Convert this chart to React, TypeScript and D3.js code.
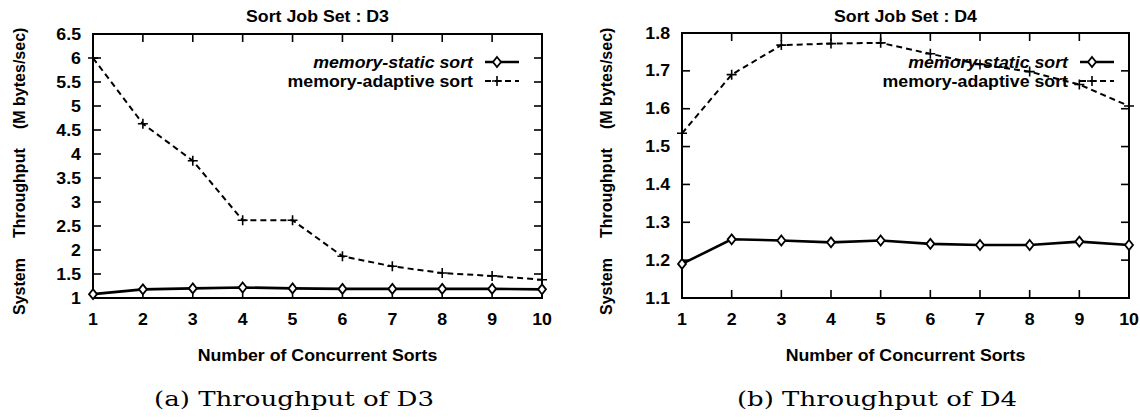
import React from "react";
import * as d3 from "d3";

// ---------- data ----------
const X_VALUES = [1, 2, 3, 4, 5, 6, 7, 8, 9, 10];
const X_TICKS = [1, 2, 3, 4, 5, 6, 7, 8, 9, 10];

const D3_STATIC = [1.08, 1.18, 1.2, 1.22, 1.2, 1.19, 1.19, 1.19, 1.19, 1.18];
const D3_ADAPTIVE = [6.0, 4.63, 3.86, 2.62, 2.62, 1.87, 1.66, 1.52, 1.46, 1.38];
const D3_Y_TICKS = [1, 1.5, 2, 2.5, 3, 3.5, 4, 4.5, 5, 5.5, 6, 6.5];

const D4_STATIC = [1.19, 1.255, 1.252, 1.247, 1.252, 1.243, 1.24, 1.24, 1.249, 1.24];
const D4_ADAPTIVE = [1.535, 1.69, 1.768, 1.772, 1.774, 1.745, 1.717, 1.698, 1.664, 1.607];
const D4_Y_TICKS = [1.1, 1.2, 1.3, 1.4, 1.5, 1.6, 1.7, 1.8];

const SERIES_LABELS = ["memory-static sort", "memory-adaptive sort"];
const PANEL_TITLES = ["Sort Job Set : D3", "Sort Job Set : D4"];
const CAPTIONS = ["(a) Throughput of D3", "(b) Throughput of D4"];
const X_TITLE = "Number of Concurrent Sorts";
const Y_TITLE_PARTS = ["System", "Throughput", "(M bytes/sec)"];

// ---------- layout ----------
const SANS = "'Liberation Sans', Arial, Helvetica, sans-serif";
const SERIF = "'DejaVu Serif', 'Liberation Serif', serif";
const STRETCH = 1.11;

type PanelCfg = {
  left: number;
  right: number;
  top: number;
  bottom: number;
  yDomain: [number, number];
  yTicks: number[];
  fmt: (v: number) => string;
  staticVals: number[];
  adaptiveVals: number[];
  title: string;
  caption: string;
  captionCenter: number;
  yTitleX: number;
  legendRight: number;
};

const PANELS: PanelCfg[] = [
  {
    left: 93, right: 542, top: 34, bottom: 298,
    yDomain: [1, 6.5], yTicks: D3_Y_TICKS, fmt: d3.format("~g"),
    staticVals: D3_STATIC, adaptiveVals: D3_ADAPTIVE,
    title: PANEL_TITLES[0], caption: CAPTIONS[0], captionCenter: 294,
    yTitleX: 25, legendRight: 473,
  },
  {
    left: 682, right: 1129, top: 33, bottom: 298,
    yDomain: [1.1, 1.8], yTicks: D4_Y_TICKS, fmt: d3.format(".1f"),
    staticVals: D4_STATIC, adaptiveVals: D4_ADAPTIVE,
    title: PANEL_TITLES[1], caption: CAPTIONS[1], captionCenter: 877,
    yTitleX: 612, legendRight: 1068,
  },
];

const TICK = 8;

function ST({ x, y, anchor = "middle", size = 16, weight = "bold", italic = false, children }: any) {
  return (
    <text
      transform={`translate(${x},${y}) scale(${STRETCH},1)`}
      textAnchor={anchor}
      fontFamily={SANS}
      fontSize={size}
      fontWeight={weight}
      fontStyle={italic ? "italic" : "normal"}
      fill="#000"
    >
      {children}
    </text>
  );
}

const diamondPath = "M0,-5L4,0L0,5L-4,0Z";
const plusPath = "M-5,0H5M0,-5V5";

function Panel({ cfg }: { cfg: PanelCfg }) {
  const x = d3.scaleLinear().domain([1, 10]).range([cfg.left, cfg.right]);
  const y = d3.scaleLinear().domain(cfg.yDomain).range([cfg.bottom, cfg.top]);
  const line = d3
    .line<number>()
    .x((_, i) => x(X_VALUES[i]))
    .y((d) => y(d));
  const cx = (cfg.left + cfg.right) / 2;
  const lr = cfg.legendRight;
  const legendRows = [62, 81];

  return (
    <g>
      {/* title */}
      <ST x={cx} y={22} weight="bold">{cfg.title}</ST>

      {/* frame */}
      <rect
        x={cfg.left}
        y={cfg.top}
        width={cfg.right - cfg.left}
        height={cfg.bottom - cfg.top}
        fill="none"
        stroke="#000"
        strokeWidth={2}
      />

      {/* x ticks (bottom & top, inward) */}
      {X_TICKS.map((t) => (
        <g key={"xt" + t}>
          <line x1={x(t)} x2={x(t)} y1={cfg.bottom} y2={cfg.bottom - TICK} stroke="#000" strokeWidth={1.6} />
          <line x1={x(t)} x2={x(t)} y1={cfg.top} y2={cfg.top + TICK} stroke="#000" strokeWidth={1.6} />
          <ST x={x(t)} y={cfg.bottom + 27}>{String(t)}</ST>
        </g>
      ))}

      {/* y ticks (left & right, inward) */}
      {cfg.yTicks.map((t) => (
        <g key={"yt" + t}>
          <line x1={cfg.left} x2={cfg.left + TICK} y1={y(t)} y2={y(t)} stroke="#000" strokeWidth={1.6} />
          <line x1={cfg.right} x2={cfg.right - TICK} y1={y(t)} y2={y(t)} stroke="#000" strokeWidth={1.6} />
          <ST x={cfg.left - 12} y={y(t) + 5.5} anchor="end">{cfg.fmt(t)}</ST>
        </g>
      ))}

      {/* y title (rotated) */}
      <text transform={`translate(${cfg.yTitleX},315) rotate(-90)`} fontFamily={SANS} fontSize={16} fontWeight="bold">{Y_TITLE_PARTS[0]}</text>
      <text transform={`translate(${cfg.yTitleX},238) rotate(-90)`} fontFamily={SANS} fontSize={16} fontWeight="bold">{Y_TITLE_PARTS[1]}</text>
      <text transform={`translate(${cfg.yTitleX},129) rotate(-90)`} fontFamily={SANS} fontSize={16} fontWeight="bold">{Y_TITLE_PARTS[2]}</text>

      {/* x title */}
      <ST x={cx} y={361}>{X_TITLE}</ST>

      {/* legend */}
      <ST x={lr} y={legendRows[0] + 6} anchor="end" italic>{SERIES_LABELS[0]}</ST>
      <line x1={lr + 12} x2={lr + 46} y1={legendRows[0]} y2={legendRows[0]} stroke="#000" strokeWidth={2.4} />
      <path d={diamondPath} transform={`translate(${lr + 24},${legendRows[0]})`} fill="#fff" stroke="#000" strokeWidth={1.8} />
      <ST x={lr} y={legendRows[1] + 6} anchor="end">{SERIES_LABELS[1]}</ST>
      <line x1={lr + 12} x2={lr + 46} y1={legendRows[1]} y2={legendRows[1]} stroke="#000" strokeWidth={1.8} strokeDasharray="6,4" />
      <path d={plusPath} transform={`translate(${lr + 24},${legendRows[1]})`} fill="none" stroke="#000" strokeWidth={1.6} />

      {/* data lines */}
      <path d={line(cfg.adaptiveVals) || ""} fill="none" stroke="#000" strokeWidth={2} strokeDasharray="6,4" />
      <path d={line(cfg.staticVals) || ""} fill="none" stroke="#000" strokeWidth={2.6} />
      {cfg.adaptiveVals.map((v, i) => (
        <path key={"a" + i} d={plusPath} transform={`translate(${x(X_VALUES[i])},${y(v)})`} fill="none" stroke="#000" strokeWidth={1.6} />
      ))}
      {cfg.staticVals.map((v, i) => (
        <path key={"s" + i} d={diamondPath} transform={`translate(${x(X_VALUES[i])},${y(v)})`} fill="#fff" stroke="#000" strokeWidth={1.8} />
      ))}

      {/* caption */}
      <text
        x={cfg.captionCenter}
        y={406}
        textAnchor="middle"
        fontFamily={SERIF}
        fontSize={20}
        textLength={280}
        lengthAdjust="spacingAndGlyphs"
        fill="#000"
      >
        {cfg.caption}
      </text>
    </g>
  );
}

export default function App() {
  return (
    <svg
      width={1140}
      height={420}
      viewBox="0 0 1140 420"
      style={{ position: "absolute", left: 0, top: 0, background: "#fff" }}
    >
      <rect x={0} y={0} width={1140} height={420} fill="#fff" />
      {PANELS.map((p, i) => (
        <Panel key={i} cfg={p} />
      ))}
    </svg>
  );
}
